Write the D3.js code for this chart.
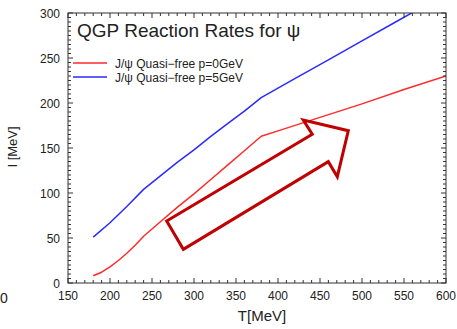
<!DOCTYPE html>
<html><head><meta charset="utf-8">
<script src="https://cdn.jsdelivr.net/npm/d3@7"></script>
<style>body{margin:0;background:#fff}svg{display:block}text{font-family:"Liberation Sans",Arial,sans-serif;fill:#222}</style>
</head><body>
<script>
const T_red = [180,190,200,210,220,230,240,260,280,300,320,340,360,380,400,450,500,550,600];
const G_red = [8,12,18,25,33,42,52,68,84,99,115,131,147,163,169,184,199,215,230];
const T_blue = [180,200,220,240,260,280,300,320,340,360,380,420,460,500,540,580,600];
const G_blue = [51,67,85,104,119,134,148,163,177,191,206,227,248,269,290,311,321];
const xTicks = [150,200,250,300,350,400,450,500,550,600];
const yTicks = [0,50,100,150,200,250,300];
const seriesNames = ["J/\u03C8 Quasi\u2212free p=0GeV","J/\u03C8 Quasi\u2212free p=5GeV"];
const seriesColors = ["#ff2a2a","#2a2aff"];
const arrowT = [267.5,287.3,459.9,470.6,483.7,430.1,440.8];
const arrowG = [68.9,37.4,134.8,118.1,169.2,181.1,165.2];

const W=457,H=329;
const m={l:68,r:11,t:13,b:46};
const svg=d3.select("body").append("svg").attr("width",W).attr("height",H);
const x=d3.scaleLinear().domain([150,600]).range([m.l,W-m.r]);
const y=d3.scaleLinear().domain([0,300]).range([H-m.b,m.t]);

svg.append("defs").append("clipPath").attr("id","clip").append("rect")
  .attr("x",m.l).attr("y",m.t).attr("width",W-m.l-m.r).attr("height",H-m.t-m.b);

const series=[[T_red,G_red],[T_blue,G_blue]];
const line=d3.line().x(d=>x(d[0])).y(d=>y(d[1])).curve(d3.curveLinear);
series.forEach((s,i)=>{
  const pts=s[0].map((t,j)=>[t,s[1][j]]);
  svg.append("path").attr("clip-path","url(#clip)").attr("d",line(pts))
    .attr("fill","none").attr("stroke",seriesColors[i]).attr("stroke-width",1.5)
    .attr("stroke-linejoin","round");
});

const apts=arrowT.map((t,j)=>[x(t),y(arrowG[j])]);
svg.append("path").attr("d","M"+apts.map(p=>p.join(",")).join("L")+"Z")
  .attr("fill","none").attr("stroke","#c00000").attr("stroke-width",3).attr("stroke-linejoin","miter");

const frame=svg.append("g").attr("stroke","#333").attr("fill","none");
frame.append("rect").attr("x",m.l).attr("y",m.t).attr("width",W-m.l-m.r).attr("height",H-m.t-m.b).attr("stroke-width",1);
const xMinor=d3.range(150,601,10), yMinor=d3.range(0,301,5);
const g=svg.append("g").attr("stroke","#333");
xMinor.forEach(v=>{
  const L=(v%50===0)?5:3;
  g.append("line").attr("x1",x(v)).attr("x2",x(v)).attr("y1",y(0)).attr("y2",y(0)-L);
  g.append("line").attr("x1",x(v)).attr("x2",x(v)).attr("y1",y(300)).attr("y2",y(300)+L);
});
yMinor.forEach(v=>{
  const L=(v%50===0)?5:3;
  g.append("line").attr("y1",y(v)).attr("y2",y(v)).attr("x1",x(150)).attr("x2",x(150)+L);
  g.append("line").attr("y1",y(v)).attr("y2",y(v)).attr("x1",x(600)).attr("x2",x(600)-L);
});
xTicks.forEach(v=>{
  svg.append("text").attr("x",x(v)).attr("y",y(0)+17).attr("text-anchor","middle")
    .attr("font-size",12).text(v);
});
yTicks.forEach(v=>{
  svg.append("text").attr("x",x(150)-8).attr("y",y(v)+4.5).attr("text-anchor","end")
    .attr("font-size",12).text(v);
});

svg.append("text").attr("x",(x(150)+x(600))/2+5).attr("y",321).attr("text-anchor","middle")
  .attr("font-size",15).text("T[MeV]");
svg.append("text").attr("transform","translate(17,147) rotate(-90)").attr("text-anchor","middle")
  .attr("font-size",13).text("I [MeV]");

svg.append("text").attr("x",0).attr("y",303).attr("font-size",14).text("0");

svg.append("text").attr("x",77).attr("y",37).attr("font-size",19).text("QGP Reaction Rates for \u03C8");

seriesNames.forEach((n,i)=>{
  const ly=63+i*14;
  svg.append("line").attr("x1",73).attr("x2",107).attr("y1",ly).attr("y2",ly)
    .attr("stroke",seriesColors[i]).attr("stroke-width",1.5);
  svg.append("text").attr("x",115).attr("y",ly+4.5).attr("font-size",12).text(n);
});
</script>
</body></html>
